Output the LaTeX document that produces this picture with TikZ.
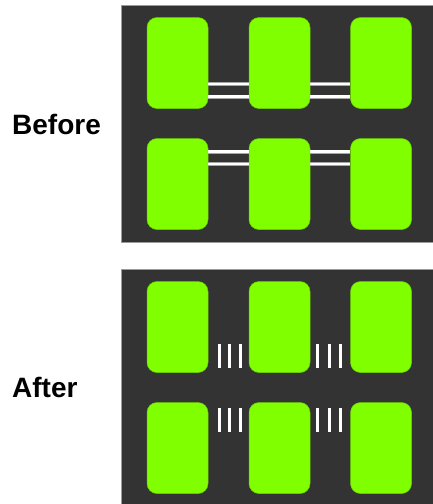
\documentclass[tikz,border=0pt]{standalone}
\usepackage{fontspec}
\setmainfont{Liberation Sans}
\definecolor{panel}{HTML}{333333}
\definecolor{pad}{HTML}{80FF00}
\definecolor{padedge}{HTML}{6CD000}
\definecolor{rim}{HTML}{9A9A9A}
\begin{document}
\begin{tikzpicture}[x=1pt,y=-1pt,
  panelbox/.style={fill=panel,draw=rim,line width=0.8pt},
  padbox/.style={rectangle,rounded corners=10pt,fill=pad,draw=padedge,line width=0.5pt,
    minimum width=61pt,minimum height=91pt,inner sep=0pt},
  wire/.style={draw=white,line width=2.6pt},
  wireedge/.style={draw=gray!70,line width=3.6pt},
  tick/.style={draw=white,line width=3pt},
  lab/.style={font=\bfseries\fontsize{28}{30}\selectfont,anchor=base west,inner sep=0pt}]
\useasboundingbox (0,0) rectangle (432,504);
\fill[white] (0,0) rectangle (432,504);
% panels
\path[panelbox] (121.5,5) rectangle (433,242);
\path[panelbox] (121.5,269) rectangle (433,505);
% labels
\node[lab] (before) at (12,134) {Before};
\node[lab] (after) at (12,397) {After};
% before pads
\node[padbox] (b11) at (177.5,63) {};
\node[padbox] (b12) at (279.5,63) {};
\node[padbox] (b13) at (381,63) {};
\node[padbox] (b21) at (177.5,184) {};
\node[padbox] (b22) at (279.5,184) {};
\node[padbox] (b23) at (381,184) {};
% before wires
\foreach \a/\b/\y in {b11/b12/84,b11/b12/96.7,b12/b13/84,b12/b13/96.7,
                      b21/b22/151.7,b21/b22/164,b22/b23/151.7,b22/b23/164}{
  \draw[wireedge] (\a.east |- 0,\y) -- (\b.west |- 0,\y);
  \draw[wire] (\a.east |- 0,\y) -- (\b.west |- 0,\y);
}
% after pads
\node[padbox] (a11) at (177.5,327) {};
\node[padbox] (a12) at (279.5,327) {};
\node[padbox] (a13) at (381,327) {};
\node[padbox] (a21) at (177.5,448) {};
\node[padbox] (a22) at (279.5,448) {};
\node[padbox] (a23) at (381,448) {};
% after ticks
\foreach \x in {219,229.7,240,317.7,329,340}{
  \draw[tick] (\x,343.5) -- (\x,367.5);
  \draw[tick] (\x,407.5) -- (\x,431.5);
}
\end{tikzpicture}
\end{document}
